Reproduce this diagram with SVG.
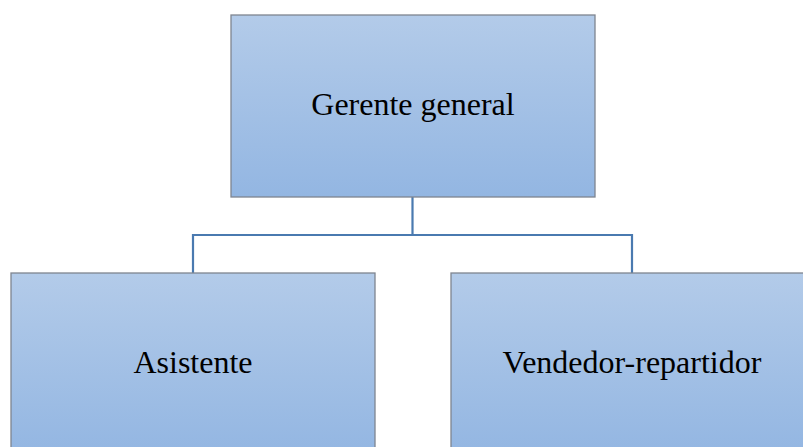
<svg xmlns="http://www.w3.org/2000/svg" width="803" height="447" viewBox="0 0 803 447">
<defs>
<linearGradient id="g" x1="0" y1="0" x2="0" y2="1">
<stop offset="0" stop-color="#b3cbe9"/>
<stop offset="1" stop-color="#93b6e2"/>
</linearGradient>
</defs>
<style>
.box{fill:url(#g);stroke:#7f8590;stroke-width:1.3}
.lbl{font-family:"Liberation Serif","Times New Roman",serif;font-size:32px;fill:#000;text-anchor:middle}
.conn{fill:none;stroke:#4a7ab0;stroke-width:2.2}
</style>
<rect width="803" height="447" fill="#fff"/>
<g id="connectors">
<path class="conn" d="M412.5,197 V235 M193,273 V235 H632 V273"/>
</g>
<g id="gerente">
<rect class="box" x="231" y="15" width="364" height="182"/>
<text class="lbl" x="413" y="115">Gerente general</text>
</g>
<g id="asistente">
<rect class="box" x="11" y="273" width="364" height="182"/>
<text class="lbl" x="193" y="373">Asistente</text>
</g>
<g id="vendedor">
<rect class="box" x="451" y="273" width="364" height="182"/>
<text class="lbl" x="632" y="373">Vendedor-repartidor</text>
</g>
</svg>
